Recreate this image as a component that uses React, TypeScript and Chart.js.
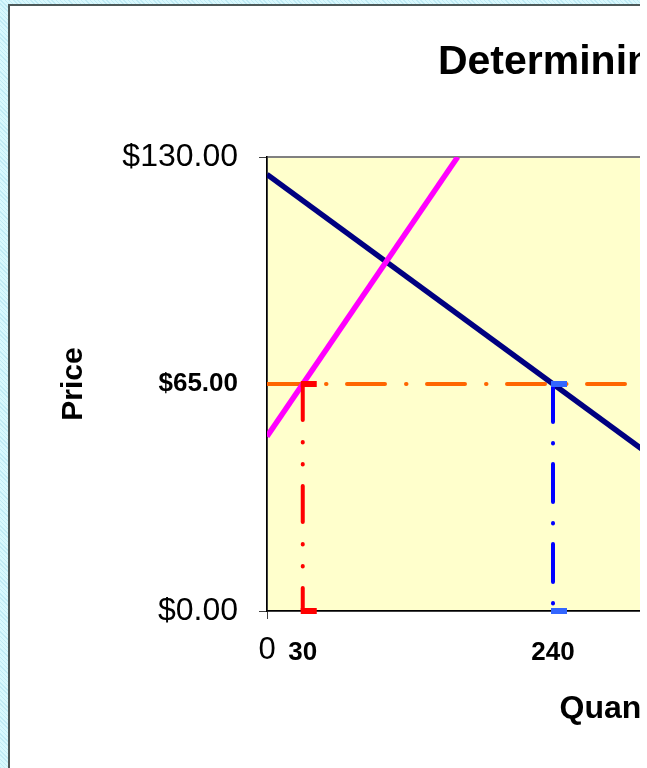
import React, { useEffect, useRef } from "react";
import { Chart, registerables } from "chart.js";

Chart.register(...registerables);

// ---- text ----
const TITLE = "Determining the Shortage";
const X_TITLE = "Quantity";
const Y_TITLE = "Price";

// ---- data ----
const demandQ = [0, 500];
const demandP = [125, 0];
const supplyQ = [0, 160];
const supplyP = [50, 130];
const priceLineQ = [0, 600];
const priceLineP = [65, 65];
const qSuppliedQ = [30, 30];
const qSuppliedP = [65, 0];
const qDemandedQ = [240, 240];
const qDemandedP = [65, 0];

const xTickValues = [0, 30, 240];
const yTickValues = [0, 65, 130];
const boldXTicks = [30, 240];
const boldYTicks = [65];
const X_MAX = 600;
const Y_MAX = 130;

const CW = 1357;
const CH = 800;
const FONT = "'Liberation Sans', Arial, sans-serif";

const pts = (xs: number[], ys: number[]) => xs.map((x, i) => ({ x, y: ys[i] }));

function dashMarker(color: string) {
  const c = document.createElement("canvas");
  c.width = 32;
  c.height = 6;
  const g = c.getContext("2d")!;
  g.fillStyle = color;
  g.fillRect(14, 0, 16, 6);
  return c;
}

const plotBackground = {
  id: "plotBackground",
  beforeDraw(chart: any) {
    const { ctx, chartArea: a } = chart;
    ctx.save();
    ctx.fillStyle = "#FFFFCC";
    ctx.fillRect(a.left, a.top, a.right - a.left, a.bottom - a.top);
    ctx.strokeStyle = "#808080";
    ctx.lineWidth = 2;
    ctx.strokeRect(a.left, a.top, a.right - a.left, a.bottom - a.top);
    ctx.restore();
  },
};

const chartTitle = {
  id: "chartTitle",
  afterDraw(chart: any, _args: any, opts: any) {
    const { ctx } = chart;
    ctx.save();
    ctx.font = `bold ${opts.size}px ${FONT}`;
    ctx.fillStyle = "#000";
    ctx.textAlign = "center";
    ctx.textBaseline = "middle";
    ctx.fillText(opts.text, chart.width / 2, opts.y);
    ctx.restore();
  },
};

export default function App() {
  const ref = useRef<HTMLCanvasElement>(null);

  useEffect(() => {
    if (!ref.current) return;
    const redMarker = dashMarker("#FF0000");
    const blueMarker = dashMarker("#3366FF");

    const chart = new Chart(ref.current, {
      type: "scatter",
      data: {
        datasets: [
          {
            label: "Price",
            data: pts(priceLineQ, priceLineP),
            showLine: true,
            borderColor: "#FF6600",
            borderWidth: 4,
            borderCapStyle: "round",
            borderDash: [38, 21, 0.5, 20.5],
            pointRadius: 0,
            clip: 0,
            order: 5,
          },
          {
            label: "Demand",
            data: pts(demandQ, demandP),
            showLine: true,
            borderColor: "#000080",
            borderWidth: 5.5,
            pointRadius: 0,
            clip: 0,
            order: 4,
          },
          {
            label: "Supply",
            data: pts(supplyQ, supplyP),
            showLine: true,
            borderColor: "#FF00FF",
            borderWidth: 5.5,
            pointRadius: 0,
            clip: 0,
            order: 3,
          },
          {
            label: "Quantity supplied",
            data: pts(qSuppliedQ, qSuppliedP),
            showLine: true,
            borderColor: "#FF0000",
            borderWidth: 4,
            borderCapStyle: "round",
            borderDash: [36, 22, 0.5, 21.5, 0.5, 21.5],
            pointStyle: redMarker as any,
            pointRadius: 4,
            clip: false as any,
            order: 2,
          },
          {
            label: "Quantity demanded",
            data: pts(qDemandedQ, qDemandedP),
            showLine: true,
            borderColor: "#0000FF",
            borderWidth: 4,
            borderCapStyle: "round",
            borderDash: [38, 21, 0.5, 20.5],
            pointStyle: blueMarker as any,
            pointRadius: 4,
            clip: false as any,
            order: 1,
          },
        ],
      },
      options: {
        animation: false,
        responsive: false,
        events: [],
        layout: { padding: { top: 151, left: 0, bottom: 0, right: CW - 257 - Math.round((286 / 240) * X_MAX) } },
        elements: { line: { tension: 0 } },
        plugins: {
          legend: { display: false },
          tooltip: { enabled: false },
          title: { display: false },
          chartTitle: { text: TITLE, size: 41, y: 57 },
        } as any,
        scales: {
          x: {
            type: "linear",
            min: 0,
            max: X_MAX,
            afterBuildTicks: (s: any) => {
              s.ticks = xTickValues.map((v) => ({ value: v }));
            },
            afterFit: (s: any) => {
              s.height = CH - 605;
            },
            border: { display: true, color: "#000", width: 1.5 },
            grid: {
              drawOnChartArea: false,
              drawTicks: true,
              tickLength: 8,
              tickColor: (c: any) => (c.tick && c.tick.value === 0 ? "#404040" : "rgba(0,0,0,0)"),
            },
            ticks: {
              autoSkip: false,
              maxRotation: 0,
              padding: 13,
              color: "#000",
              font: (c: any) =>
                c.tick && boldXTicks.includes(c.tick.value)
                  ? { family: FONT, size: 26, weight: "bold", lineHeight: 1.6 }
                  : { family: FONT, size: 31, weight: "normal", lineHeight: 1.2 },
              callback: (v: any) => String(v),
            },
            title: {
              display: true,
              text: X_TITLE,
              color: "#000",
              font: { family: FONT, size: 32, weight: "bold", lineHeight: 1.2 },
              padding: { top: 0, bottom: 78 },
            },
          },
          y: {
            type: "linear",
            min: 0,
            max: Y_MAX,
            afterBuildTicks: (s: any) => {
              s.ticks = yTickValues.map((v) => ({ value: v }));
            },
            afterFit: (s: any) => {
              s.width = 257;
            },
            border: { display: true, color: "#000", width: 1.5 },
            grid: {
              drawOnChartArea: false,
              drawTicks: true,
              tickLength: 8,
              tickColor: (c: any) => (c.tick && boldYTicks.includes(c.tick.value) ? "rgba(0,0,0,0)" : "#404040"),
            },
            ticks: {
              padding: 21,
              color: "#000",
              font: (c: any) =>
                c.tick && boldYTicks.includes(c.tick.value)
                  ? { family: FONT, size: 26, weight: "bold" }
                  : { family: FONT, size: 32, weight: "normal" },
              callback: (v: any) => "$" + Number(v).toFixed(2),
            },
            title: {
              display: true,
              text: Y_TITLE,
              color: "#000",
              font: { family: FONT, size: 30, weight: "bold", lineHeight: 1.2 },
              padding: { top: 46, bottom: 0 },
            },
          },
        },
      } as any,
      plugins: [plotBackground, chartTitle],
    });
    return () => chart.destroy();
  }, []);

  return (
    <div
      style={{
        position: "fixed",
        inset: 0,
        overflow: "hidden",
        background:
          "repeating-linear-gradient(45deg, #bfeaf4 0px, #bfeaf4 1px, #d8f8fd 1px, #d8f8fd 3px)",
      }}
    >
      <div
        style={{
          position: "absolute",
          left: 8,
          top: 4,
          width: CW,
          height: CH,
          border: "2px solid #4d5959",
          background: "#FFFFFF",
        }}
      >
        <canvas ref={ref} width={CW} height={CH} style={{ display: "block", width: CW, height: CH }} />
      </div>
      <div
        style={{
          position: "absolute",
          left: 640,
          top: 0,
          right: 0,
          bottom: 0,
          background: "#FFFFFF",
        }}
      />
    </div>
  );
}
